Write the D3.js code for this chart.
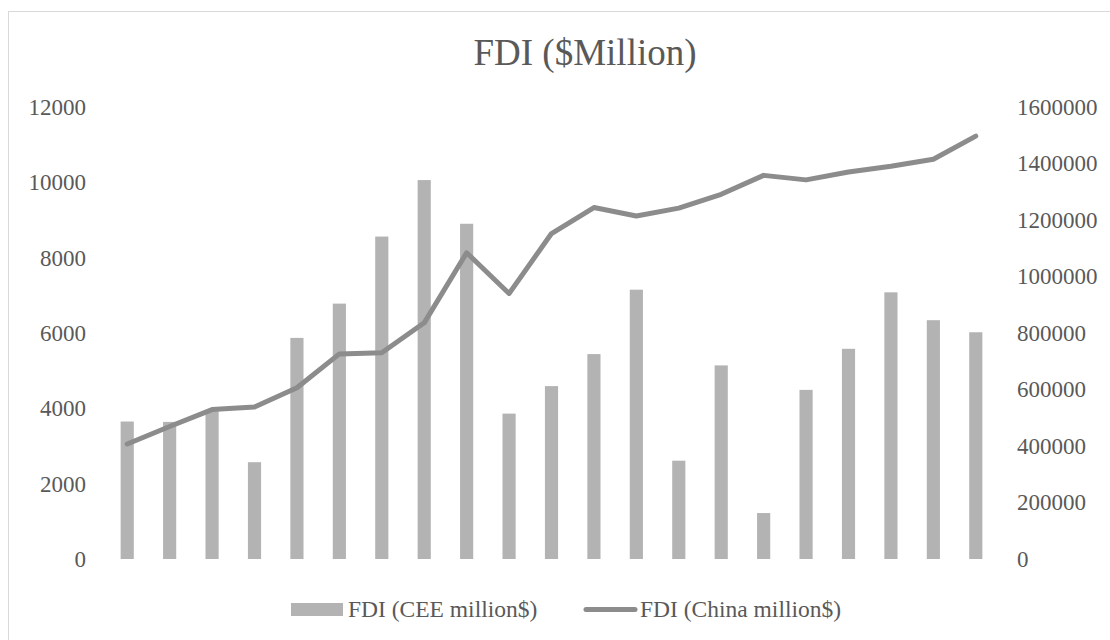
<!DOCTYPE html>
<html>
<head>
<meta charset="utf-8">
<script src="https://cdn.jsdelivr.net/npm/d3@7"></script>
<style>
  body { margin: 0; background: #fff; }
  svg { display: block; }
  svg text { font-family: "Times New Roman", "Liberation Serif", Tinos, "DejaVu Serif", serif; }
</style>
</head>
<body>
<svg id="chart" width="1110" height="640"></svg>
<script>
// periods (no x labels shown in the original)
const periods = ["1", "2", "3", "4", "5", "6", "7", "8", "9", "10", "11",
  "12", "13", "14", "15", "16", "17", "18", "19", "20", "21"];
const ceeValues = [3650, 3640, 3950, 2570, 5870, 6780, 8560, 10060, 8900, 3860, 4590,
  5440, 7150, 2610, 5140, 1220, 4490, 5580, 7080, 6340, 6020];
const chinaValues = [407000, 469000, 529000, 538000, 606000, 726000, 730000, 836000, 1084000, 940000, 1152000,
  1244000, 1214000, 1242000, 1291000, 1358000, 1342000, 1370000, 1390000, 1415000, 1497000];
const leftTicks = [0, 2000, 4000, 6000, 8000, 10000, 12000];
const rightTicks = [0, 200000, 400000, 600000, 800000, 1000000, 1200000, 1400000, 1600000];
const legendLabels = ["FDI (CEE million$)", "FDI (China million$)"];

const svg = d3.select("#chart");
const textColor = "#595959";
const barColor = "#b3b3b3";
const lineColor = "#8c8c8c";

let plotTop = 107, plotBottom = 559, plotLeft = 106, plotRight = 997;

// chart border
svg.append("rect")
  .attr("x", 8.5).attr("y", 11.5)
  .attr("width", 1110).attr("height", 640)
  .attr("fill", "none")
  .attr("stroke", "#d9d9d9");

svg.append("text")
  .attr("x", 585).attr("y", 65)
  .attr("text-anchor", "middle")
  .attr("font-size", 37)
  .attr("fill", textColor)
  .text("FDI ($Million)");

var x = d3.scaleBand().domain(periods).range([plotLeft, plotRight])
  .paddingInner(0.69).paddingOuter(0.345);
var y = d3.scaleLinear().domain([0, 12000]).range([plotBottom, plotTop]);
var y2 = d3.scaleLinear().domain([0, 1600000]).range([plotBottom, plotTop]);

// Left axis
svg.append("g")
  .attr("transform", `translate(${86}, 0)`)
  .call(d3.axisLeft(y).tickValues(leftTicks).tickSize(0).tickPadding(0).tickFormat(d3.format("d")))
  .call(g => g.select(".domain").remove())
  .selectAll("text")
  .attr("font-size", 23)
  .attr("fill", textColor);

// Right axis
svg.append("g")
  .attr("transform", `translate(${1017}, 0)`)
  .call(d3.axisRight(y2).tickValues(rightTicks).tickSize(0).tickPadding(0).tickFormat(d3.format("d")))
  .call(g => g.select(".domain").remove())
  .selectAll("text")
  .attr("font-size", 23)
  .attr("fill", textColor);

// bars
svg.append("g")
  .selectAll("rect")
  .data(ceeValues)
  .enter()
  .append("rect")
  .attr("x", (d, i) => x(periods[i]))
  .attr("y", d => y(d))
  .attr("width", x.bandwidth())
  .attr("height", d => y(0) - y(d))
  .attr("fill", barColor);

// line
var line = d3.line()
  .x((d, i) => x(periods[i]) + x.bandwidth() / 2)
  .y(d => y2(d));

svg.append("path")
  .datum(chinaValues)
  .attr("d", line)
  .attr("fill", "none")
  .attr("stroke", lineColor)
  .attr("stroke-width", 5)
  .attr("stroke-linejoin", "round")
  .attr("stroke-linecap", "round");

// legend
var lg = svg.append("g").attr("font-size", 23.5).attr("fill", textColor);
lg.append("rect")
  .attr("x", 291).attr("y", 603)
  .attr("width", 52).attr("height", 13)
  .attr("fill", barColor);
lg.append("text")
  .attr("x", 348).attr("y", 617)
  .text(legendLabels[0]);
lg.append("line")
  .attr("x1", 586).attr("x2", 635)
  .attr("y1", 609.5).attr("y2", 609.5)
  .attr("stroke", lineColor)
  .attr("stroke-width", 5)
  .attr("stroke-linecap", "round");
lg.append("text")
  .attr("x", 640).attr("y", 617)
  .text(legendLabels[1]);
</script>
</body>
</html>
